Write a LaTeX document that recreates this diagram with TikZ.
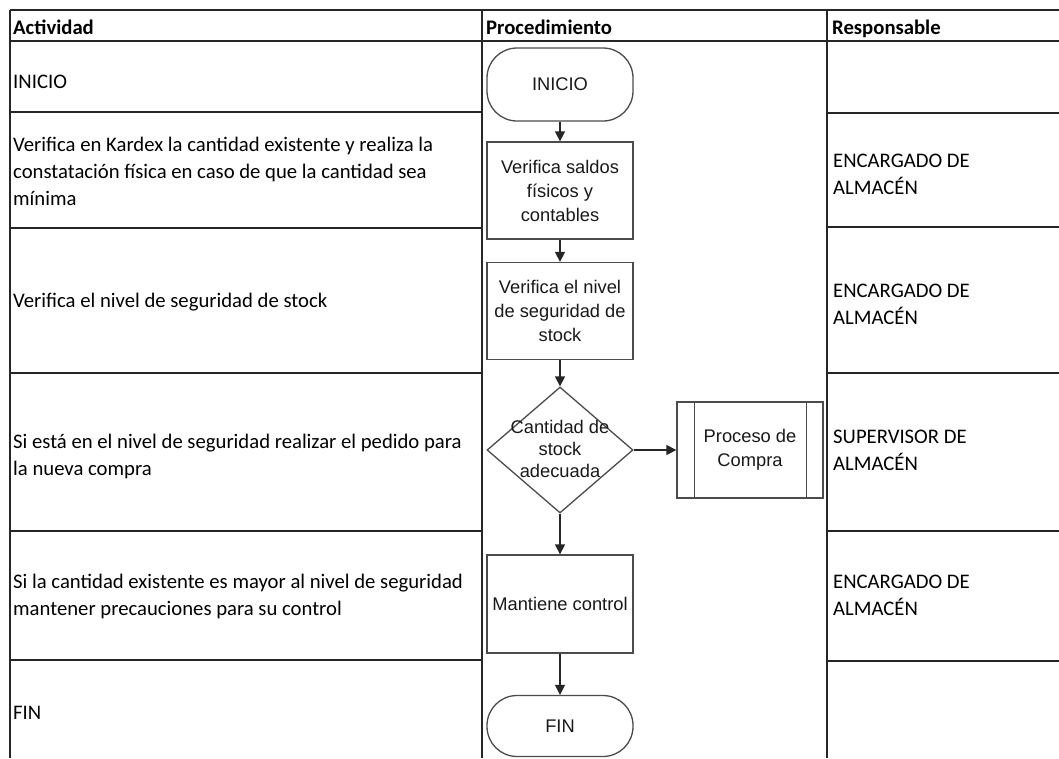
\documentclass[tikz,border=0pt]{standalone}
\usepackage{fontspec}
\setmainfont{Carlito}
\newfontfamily\flowfont{Liberation Sans}
\usetikzlibrary{shapes.geometric,arrows.meta}
\begin{document}
\begin{tikzpicture}[x=1pt,y=-1pt,
  tbl/.style={line width=2pt,draw=black!85},
  cell/.style={anchor=west,align=left,inner sep=0pt,font=\fontsize{20.7}{27}\selectfont,text=black},
  head/.style={anchor=base west,inner sep=0pt,font=\fontsize{20.7}{27}\selectfont\bfseries,text=black},
  fc/.style={draw=black!70,line width=1.3pt,fill=white,align=center,font=\flowfont\fontsize{18.3}{24}\selectfont,inner sep=0pt,text=black!90},
  procbox/.style={fc,rectangle,minimum width=146pt,minimum height=97pt},
  term/.style={fc,rectangle,rounded corners=30pt,minimum width=146pt,minimum height=73pt},
  dec/.style={fc,diamond,minimum width=146pt,minimum height=126pt},
  flowtext/.style={align=center,inner sep=0pt,font=\flowfont\fontsize{18.3}{22}\selectfont,text=black!90},
  arr/.style={-{Triangle[length=10pt,width=10pt]},line width=1.3pt,draw=black!85}
]
\useasboundingbox (0,0) rectangle (1059,758);
\fill[white] (0,0) rectangle (1059,758);
\clip (0,0) rectangle (1059,758);

% table frame
\draw[tbl] (10,10) -- (1059,10);
\draw[tbl] (10,41) -- (1059,41);
\draw[tbl] (10,10) -- (10,758);
\draw[tbl] (482,10) -- (482,758);
\draw[tbl,line width=2.6pt] (827,10) -- (827,758);
\foreach \yy in {112,228,373,531,660}{\draw[tbl] (10,\yy) -- (482,\yy);}
\foreach \yy in {113,227,373,531,661}{\draw[tbl] (827,\yy) -- (1059,\yy);}

% headers
\node[head] (h1) at (13,34) {Actividad};
\node[head] (h2) at (486,34) {Procedimiento};
\node[head] (h3) at (832,34) {Responsable};

% Actividad column
\node[cell] (a1) at (13,82) {INICIO};
\node[cell] (a2) at (13,171) {Verifica en Kardex la cantidad existente y realiza la\\constatación física en caso de que la cantidad sea\\mínima};
\node[cell] (a3) at (13,302) {Verifica el nivel de seguridad de stock};
\node[cell] (a4) at (13,456) {Si está en el nivel de seguridad realizar el pedido para\\la nueva compra};
\node[cell] (a5) at (13,596) {Si la cantidad existente es mayor al nivel de seguridad\\mantener precauciones para su control};
\node[cell] (a6) at (13,713) {FIN};

% Responsable column
\node[cell] (r2) at (833,174) {ENCARGADO DE\\ALMACÉN};
\node[cell] (r3) at (833,304) {ENCARGADO DE\\ALMACÉN};
\node[cell] (r4) at (833,450) {SUPERVISOR DE\\ALMACÉN};
\node[cell] (r5) at (833,595) {ENCARGADO DE\\ALMACÉN};

% flowchart
\node[term] (ini) at (560,84.5) {INICIO};
\node[procbox] (v1) at (560,190.5) {Verifica saldos\\físicos y\\contables};
\node[procbox] (v2) at (560,311) {Verifica el nivel\\de seguridad de\\stock};
\node[dec] (d) at (560,450) {};
\node[flowtext] (dt) at (560,449) {Cantidad de\\stock\\adecuada};
\node[procbox,minimum height=96pt] (pc) at (750,450) {Proceso de\\Compra};
\draw[draw=black!70,line width=1.3pt] ([xshift=18pt]pc.north west) -- ([xshift=18pt]pc.south west);
\draw[draw=black!70,line width=1.3pt] ([xshift=-17pt]pc.north east) -- ([xshift=-17pt]pc.south east);
\node[procbox,minimum height=98pt] (mc) at (560,604) {Mantiene control};
\node[term,minimum height=61pt] (fin) at (560,726) {FIN};

\draw[arr] (ini) -- (v1);
\draw[arr] (v1) -- (v2);
\draw[arr] (v2) -- (d);
\draw[arr] (d) -- (pc);
\draw[arr] (d) -- (mc);
\draw[arr] (mc) -- (fin);
\end{tikzpicture}
\end{document}
